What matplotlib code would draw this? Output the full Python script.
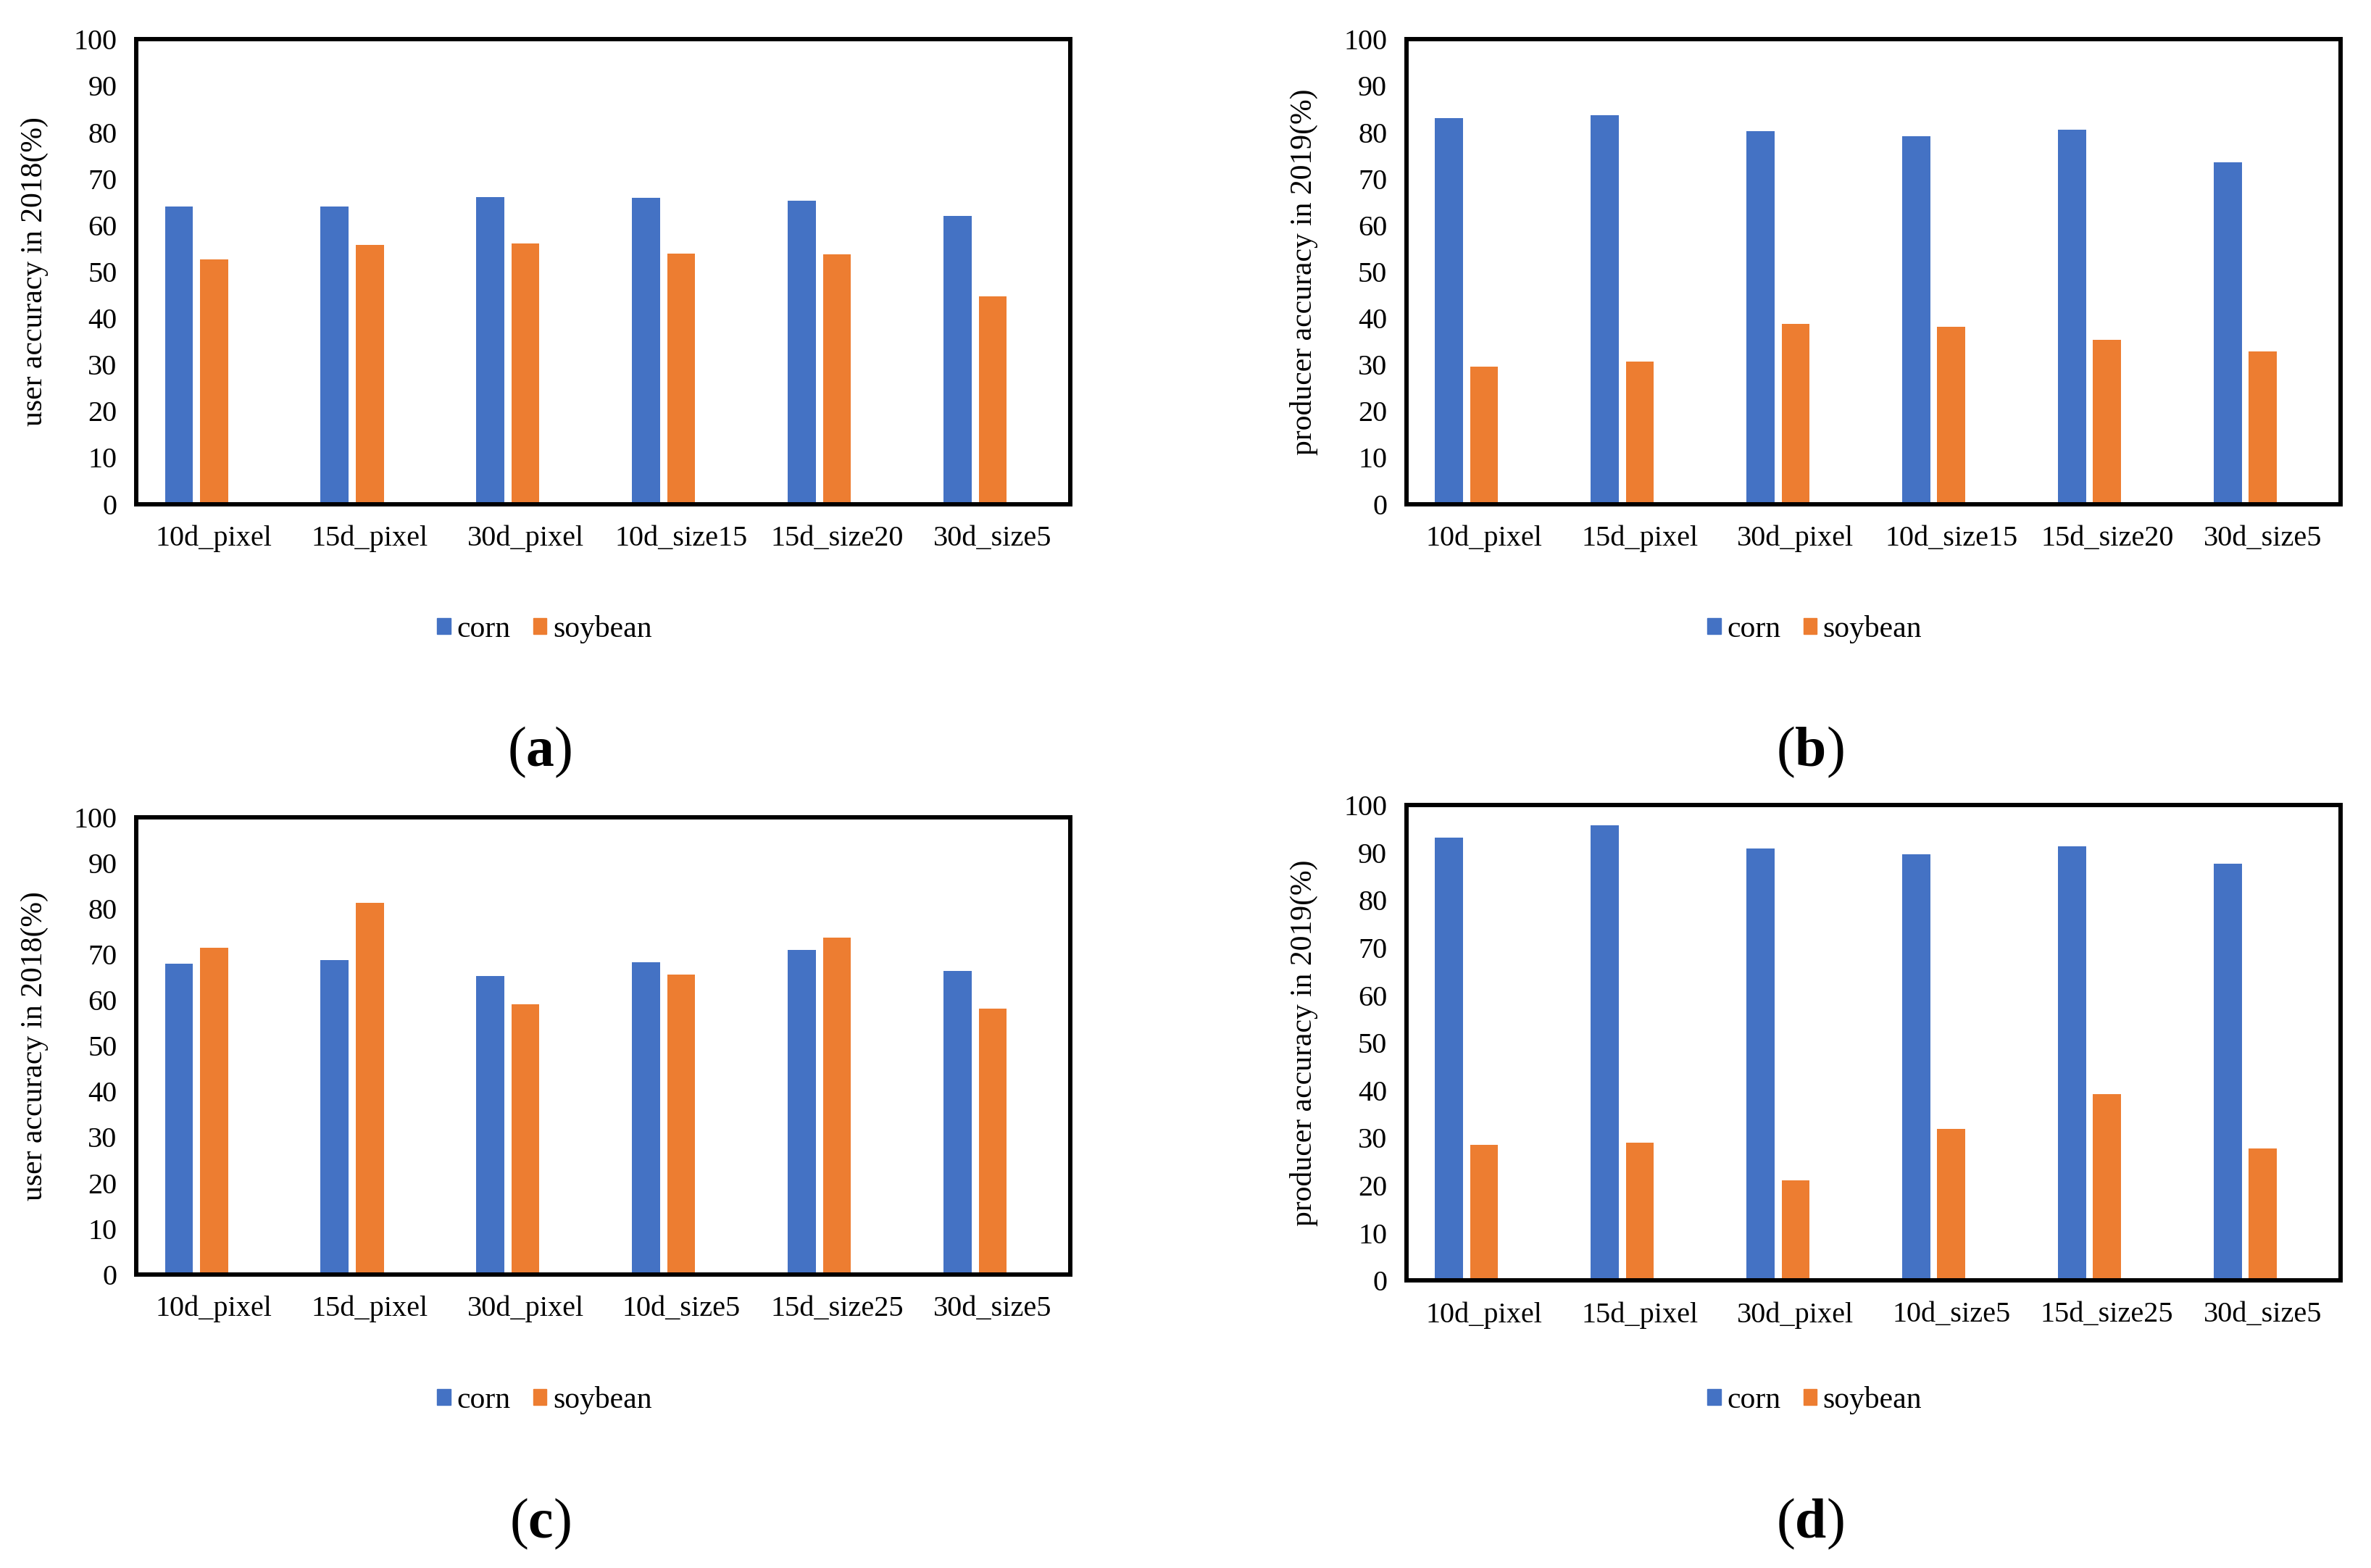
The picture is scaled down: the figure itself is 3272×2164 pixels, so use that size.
import numpy as np
from matplotlib import pyplot as plt
from matplotlib.patches import Patch

plt.rcParams['font.family'] = ['Liberation Serif', 'DejaVu Serif']
plt.rcParams['mathtext.fontset'] = 'custom'
plt.rcParams['mathtext.rm'] = 'Liberation Serif'
plt.rcParams['mathtext.bf'] = 'Liberation Serif:bold'

# data
cats_a = ['10d_pixel', '15d_pixel', '30d_pixel', '10d_size15', '15d_size20', '30d_size5']
corn_a = [64.0, 64.1, 66.0, 65.9, 65.3, 62.0]
soy_a = [52.7, 55.7, 56.0, 53.9, 53.8, 44.7]

cats_b = ['10d_pixel', '15d_pixel', '30d_pixel', '10d_size15', '15d_size20', '30d_size5']
corn_b = [83.1, 83.6, 80.2, 79.2, 80.6, 73.5]
soy_b = [29.5, 30.7, 38.7, 38.1, 35.4, 32.8]

cats_c = ['10d_pixel', '15d_pixel', '30d_pixel', '10d_size5', '15d_size25', '30d_size5']
corn_c = [67.9, 68.7, 65.2, 68.2, 71.0, 66.4]
soy_c = [71.5, 81.3, 59.1, 65.6, 73.6, 58.1]

cats_d = ['10d_pixel', '15d_pixel', '30d_pixel', '10d_size5', '15d_size25', '30d_size5']
corn_d = [93.1, 95.8, 90.9, 89.7, 91.4, 87.7]
soy_d = [28.5, 29.0, 21.0, 31.9, 39.2, 27.7]

ylabels = ['user accuracy in 2018(%)', 'producer accuracy in 2019(%)',
           'user accuracy in 2018(%)', 'producer accuracy in 2019(%)']
panel_names = ['a', 'b', 'c', 'd']

blue = '#4472C4'
orange = '#ED7D31'

fig = plt.figure(figsize=(32.72, 21.64), dpi=100)

# [left, bottom, width, height] for each panel
boxes = [[0.0574, 0.6786, 0.3941, 0.2963],
         [0.5931, 0.6786, 0.3941, 0.2963],
         [0.0574, 0.1873, 0.3941, 0.2915],
         [0.5931, 0.1834, 0.3941, 0.3031]]
legend_y = [-0.27, -0.27, -0.275, -0.252]
label_pos = [(0.2277, 0.5203), (0.7634, 0.5203), (0.2277, 0.028), (0.7634, 0.028)]

data = [(cats_a, corn_a, soy_a), (cats_b, corn_b, soy_b),
        (cats_c, corn_c, soy_c), (cats_d, corn_d, soy_d)]

for i in range(4):
    cats, corn, soy = data[i]
    ax = fig.add_axes(boxes[i])
    x = np.arange(len(cats))
    w = 0.18
    ax.bar(x - 0.225, corn, w, color=blue, label='corn')
    ax.bar(x, soy, w, color=orange, label='soybean')

    ax.set_xlim(-0.5, len(cats) - 0.5)
    ax.set_ylim(0, 100)
    ax.set_yticks(range(0, 101, 10))
    ax.set_xticks(x)
    ax.set_xticklabels(cats)
    ax.tick_params(axis='both', length=0, labelsize=29)
    ax.tick_params(axis='x', pad=21)
    ax.tick_params(axis='y', pad=19)
    for s in ax.spines.values():
        s.set_linewidth(4.3)
        s.set_color('black')

    ax.set_ylabel(ylabels[i], fontsize=30)
    ax.yaxis.set_label_coords(-0.094, 0.5)

    handles = [Patch(color=blue, label='corn'), Patch(color=orange, label='soybean')]
    ax.legend(handles=handles, loc='center', bbox_to_anchor=(0.437, legend_y[i]),
              ncol=2, frameon=False, fontsize=30, handlelength=0.45,
              handleheight=0.45, handletextpad=0.2, columnspacing=0.75)

    fig.text(label_pos[i][0], label_pos[i][1], r'($\mathbf{' + panel_names[i] + '}$)',
             fontsize=56, ha='center', va='center')

plt.savefig('out.png', dpi=100)
